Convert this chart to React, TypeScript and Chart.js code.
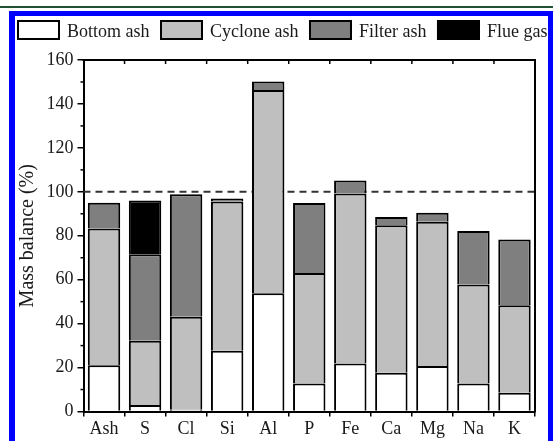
import React, { useEffect, useRef } from 'react';
import { Chart, registerables } from 'chart.js';

Chart.register(...registerables);

const categories = ['Ash', 'S', 'Cl', 'Si', 'Al', 'P', 'Fe', 'Ca', 'Mg', 'Na', 'K'];
const bottomAsh = [21.1, 3.0, 0.8, 27.6, 53.8, 12.8, 21.9, 17.6, 20.7, 12.8, 8.5];
const cycloneAsh = [62.2, 29.2, 42.3, 68.0, 92.6, 50.3, 77.3, 67.2, 65.7, 45.0, 39.9];
const filterAsh = [11.7, 39.4, 55.8, 1.3, 3.8, 31.8, 5.9, 3.7, 4.1, 24.4, 29.9];
const flueGas = [null, 24.4, null, null, null, null, null, null, null, null, null];
const seriesNames = ['Bottom ash', 'Cyclone ash', 'Filter ash', 'Flue gas'];
const seriesColors = ['#ffffff', '#bfbfbf', '#7f7f7f', '#000000'];
const yMin = 0;
const yMax = 160;
const yStep = 20;
const referenceValue = 100;
const yTitle = 'Mass balance (%)';

const FONT = '"Liberation Serif", "Times New Roman", serif';

const framePlugin = {
  id: 'framePlugin',
  beforeDatasetsDraw(chart: any) {
    const { ctx, chartArea, scales } = chart;
    const y = scales.y.getPixelForValue(referenceValue);
    ctx.save();
    ctx.strokeStyle = '#333333';
    ctx.lineWidth = 2;
    ctx.setLineDash([7, 5]);
    ctx.beginPath();
    ctx.moveTo(chartArea.left, y);
    ctx.lineTo(chartArea.right, y);
    ctx.stroke();
    ctx.restore();
  },
  afterDraw(chart: any) {
    const { ctx, chartArea: ca, scales } = chart;
    ctx.save();
    ctx.strokeStyle = '#000000';
    ctx.lineWidth = 2;
    ctx.beginPath();
    ctx.moveTo(ca.left - 1, ca.top);
    ctx.lineTo(ca.right, ca.top);
    ctx.lineTo(ca.right, ca.bottom + 1);
    ctx.stroke();
    ctx.lineWidth = 1.5;
    const xs = scales.x;
    for (let i = 1; i < categories.length; i++) {
      const x = (xs.getPixelForTick(i - 1) + xs.getPixelForTick(i)) / 2;
      ctx.beginPath();
      ctx.moveTo(x, ca.top);
      ctx.lineTo(x, ca.top + 4);
      ctx.stroke();
    }
    for (let v = yMin + yStep / 2; v < yMax; v += yStep) {
      const y = scales.y.getPixelForValue(v);
      ctx.beginPath();
      ctx.moveTo(ca.left - 3, y);
      ctx.lineTo(ca.left, y);
      ctx.stroke();
    }
    // legend
    ctx.font = '18px ' + FONT;
    ctx.textBaseline = 'alphabetic';
    let x = 17;
    const boxW = 43;
    const boxH = 20;
    const boxY = 20;
    chart.data.datasets.forEach((ds: any) => {
      ctx.fillStyle = ds.backgroundColor;
      ctx.fillRect(x, boxY, boxW, boxH);
      ctx.strokeStyle = '#000000';
      ctx.lineWidth = 2;
      ctx.strokeRect(x + 1, boxY + 1, boxW - 2, boxH - 2);
      ctx.fillStyle = '#1a1a1a';
      const tx = x + boxW + 7;
      ctx.fillText(ds.label, tx, 37);
      x = tx + ctx.measureText(ds.label).width + 10.5;
    });
    ctx.restore();
  },
};

export default function App() {
  const canvasRef = useRef<HTMLCanvasElement | null>(null);

  useEffect(() => {
    document.documentElement.style.overflow = 'hidden';
    document.body.style.overflow = 'hidden';
    const canvas = canvasRef.current;
    if (!canvas) return;
    const dataArrays = [bottomAsh, cycloneAsh, filterAsh, flueGas];
    const chart = new Chart(canvas, {
      type: 'bar',
      data: {
        labels: categories,
        datasets: dataArrays.map((d, i) => ({
          label: seriesNames[i],
          data: d as any,
          backgroundColor: seriesColors[i],
          borderColor: '#000000',
          borderWidth: 2,
          borderSkipped: 'start',
          barPercentage: 0.79,
          categoryPercentage: 1,
        })),
      },
      options: {
        responsive: false,
        animation: false,
        devicePixelRatio: 1,
        layout: { padding: { left: 14, right: 18, top: 60, bottom: 0 } },
        plugins: {
          legend: { display: false },
          tooltip: { enabled: false },
        },
        scales: {
          x: {
            stacked: true,
            offset: true,
            grid: {
              offset: true,
              drawOnChartArea: false,
              drawTicks: true,
              tickLength: 5,
              color: '#000000',
              lineWidth: 1.5,
            },
            border: { display: true, color: '#000000', width: 2 },
            ticks: {
              color: '#1a1a1a',
              font: { family: FONT, size: 18 },
              padding: 2,
              maxRotation: 0,
              autoSkip: false,
            },
            afterFit: (s: any) => {
              s.height = 29.5;
            },
          },
          y: {
            stacked: true,
            min: yMin,
            max: yMax,
            grid: {
              drawOnChartArea: false,
              drawTicks: true,
              tickLength: 6,
              color: '#000000',
              lineWidth: 1.5,
            },
            border: { display: true, color: '#000000', width: 2 },
            ticks: {
              stepSize: yStep,
              color: '#1a1a1a',
              font: { family: FONT, size: 18 },
              padding: 4,
            },
            title: {
              display: true,
              text: yTitle,
              color: '#1a1a1a',
              font: { family: FONT, size: 20 },
              padding: { top: 2, bottom: 0 },
            },
            afterFit: (s: any) => {
              s.width = 69.5;
            },
          },
        },
      },
      plugins: [framePlugin],
    });
    return () => chart.destroy();
  }, []);

  return (
    <div style={{ position: 'absolute', left: 0, top: 0, width: 553, height: 441, background: '#ffffff', overflow: 'hidden' }}>
      <canvas ref={canvasRef} width={553} height={441} style={{ position: 'absolute', left: 0, top: 0, width: 553, height: 441 }} />
      <div style={{ position: 'absolute', left: 0, top: 6, width: 553, height: 2, background: '#1e5031', pointerEvents: 'none' }} />
      <div
        style={{
          position: 'absolute',
          left: 9,
          top: 11,
          width: 544,
          height: 430,
          boxSizing: 'border-box',
          borderLeft: '6px solid #0000ff',
          borderTop: '5px solid #0000ff',
          borderRight: '5px solid #0000ff',
          pointerEvents: 'none',
        }}
      />
    </div>
  );
}
